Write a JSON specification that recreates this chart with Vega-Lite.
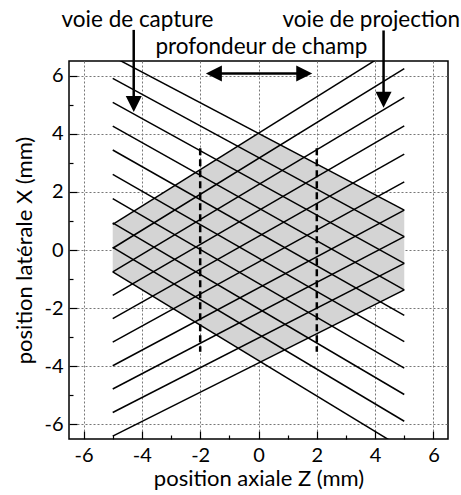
{
  "$schema": "https://vega.github.io/schema/vega-lite/v6.json",
  "width": 379,
  "height": 378,
  "autosize": {"type": "none"},
  "padding": {"left": 69, "top": 61, "right": 13, "bottom": 56},
  "config": {
    "view": {"stroke": "black", "strokeWidth": 1.5},
    "font": "Lato",
    "axis": {
      "domain": false,
      "labelFont": "Lato",
      "labelFontSize": 20,
      "labelColor": "black",
      "titleFont": "Lato",
      "titleFontSize": 22,
      "titleFontWeight": "normal",
      "titleColor": "black",
      "tickColor": "black",
      "tickWidth": 1.2,
      "gridColor": "#777777",
      "gridDash": [2, 2],
      "gridWidth": 1
    }
  },
  "datasets": {
    "rays": [
      {"id": "N0", "z": -5, "X": 6.65}, {"id": "N0", "z": 5, "X": 1.37},
      {"id": "N1", "z": -5, "X": 5.9}, {"id": "N1", "z": 5, "X": 0.46},
      {"id": "N2", "z": -5, "X": 5.08}, {"id": "N2", "z": 5, "X": -0.46},
      {"id": "N3", "z": -5, "X": 4.26}, {"id": "N3", "z": 5, "X": -1.37},
      {"id": "N4", "z": -5, "X": 3.44}, {"id": "N4", "z": 5, "X": -2.25},
      {"id": "N5", "z": -5, "X": 2.6}, {"id": "N5", "z": 5, "X": -3.15},
      {"id": "N6", "z": -5, "X": 1.77}, {"id": "N6", "z": 5, "X": -4.06},
      {"id": "N7", "z": -5, "X": 0.93}, {"id": "N7", "z": 5, "X": -4.97},
      {"id": "N8", "z": -5, "X": 0.09}, {"id": "N8", "z": 5, "X": -5.89},
      {"id": "N9", "z": -5, "X": -0.75}, {"id": "N9", "z": 5, "X": -6.85},
      {"id": "P0", "z": -5, "X": 0.88}, {"id": "P0", "z": 5, "X": 7.15},
      {"id": "P1", "z": -5, "X": 0.06}, {"id": "P1", "z": 5, "X": 6.24},
      {"id": "P2", "z": -5, "X": -0.75}, {"id": "P2", "z": 5, "X": 5.25},
      {"id": "P3", "z": -5, "X": -1.56}, {"id": "P3", "z": 5, "X": 4.27},
      {"id": "P4", "z": -5, "X": -2.36}, {"id": "P4", "z": 5, "X": 3.3},
      {"id": "P5", "z": -5, "X": -3.17}, {"id": "P5", "z": 5, "X": 2.34},
      {"id": "P6", "z": -5, "X": -3.98}, {"id": "P6", "z": 5, "X": 1.37},
      {"id": "P7", "z": -5, "X": -4.78}, {"id": "P7", "z": 5, "X": 0.46},
      {"id": "P8", "z": -5, "X": -5.59}, {"id": "P8", "z": 5, "X": -0.46},
      {"id": "P9", "z": -5, "X": -6.4}, {"id": "P9", "z": 5, "X": -1.37}
    ],
    "shade": [
      {"z": -5, "X": 0.88, "X2": -0.75},
      {"z": 0, "X": 4.01, "X2": -3.8},
      {"z": 0.076, "X": 3.97, "X2": -3.846},
      {"z": 5, "X": 1.37, "X2": -1.37}
    ],
    "dof": [
      {"z": -2, "X": 3.5, "X2": -3.5},
      {"z": 2, "X": 3.5, "X2": -3.5}
    ],
    "shafts": [
      {"z": -4.28, "z2": -4.28, "X": 7.57, "X2": 5.1},
      {"z": 4.29, "z2": 4.29, "X": 7.55, "X2": 5.25},
      {"z": -1.5, "z2": 1.52, "X": 6.07, "X2": 6.07}
    ],
    "heads": [
      {"z": -4.28, "X": 5.02, "shape": "M-1,-1L1,-1L0,1Z"},
      {"z": 4.29, "X": 5.17, "shape": "M-1,-1L1,-1L0,1Z"},
      {"z": -1.53, "X": 6.07, "shape": "M1,-1L1,1L-1,0Z"},
      {"z": 1.57, "X": 6.07, "shape": "M-1,-1L-1,1L1,0Z"}
    ],
    "labels": [
      {"z": -4.15, "X": 7.68, "text": "voie de capture"},
      {"z": 3.87, "X": 7.68, "text": "voie de projection"},
      {"z": 0.1, "X": 6.74, "text": "profondeur de champ"}
    ]
  },
  "encoding": {
    "x": {"field": "z", "type": "quantitative", "scale": {"domain": [-6.5, 6.5], "nice": false, "zero": false},
      "axis": {
        "orient": "bottom",
        "title": "position axiale Z (mm)",
        "values": [-6, -5, -4, -3, -2, -1, 0, 1, 2, 3, 4, 5, 6],
        "labelExpr": "datum.value % 2 === 0 ? '' + datum.value : ''",
        "grid": true,
        "gridOpacity": {"condition": {"test": "datum.value % 2 !== 0", "value": 0}, "value": 1},
        "tickSize": {"condition": {"test": "datum.value % 2 !== 0", "value": -4}, "value": -8},
        "labelPadding": 14,
        "titlePadding": 3
      }
    },
    "y": {"field": "X", "type": "quantitative", "scale": {"domain": [-6.5, 6.5], "nice": false, "zero": false},
      "axis": {
        "orient": "left",
        "title": "position latérale X (mm)",
        "values": [-6, -5, -4, -3, -2, -1, 0, 1, 2, 3, 4, 5, 6],
        "labelExpr": "datum.value % 2 === 0 ? '' + datum.value : ''",
        "grid": true,
        "gridOpacity": {"condition": {"test": "datum.value % 2 !== 0", "value": 0}, "value": 1},
        "tickSize": {"condition": {"test": "datum.value % 2 !== 0", "value": -4}, "value": -8},
        "labelPadding": 14,
        "titlePadding": 7
      }
    }
  },
  "layer": [
    {
      "data": {"name": "shade"},
      "mark": {"type": "area", "color": "#d4d4d4", "clip": true},
      "encoding": {"y2": {"field": "X2"}}
    },
    {
      "data": {"name": "rays"},
      "mark": {"type": "line", "color": "black", "strokeWidth": 1.5, "clip": true},
      "encoding": {"detail": {"field": "id"}}
    },
    {
      "data": {"name": "dof"},
      "mark": {"type": "rule", "color": "black", "strokeWidth": 2.5, "strokeDash": [7, 4]},
      "encoding": {"y2": {"field": "X2"}}
    },
    {
      "data": {"name": "shafts"},
      "mark": {"type": "rule", "color": "black", "strokeWidth": 2.5, "clip": false},
      "encoding": {"x2": {"field": "z2"}, "y2": {"field": "X2"}}
    },
    {
      "data": {"name": "heads"},
      "mark": {"type": "point", "filled": true, "color": "black", "opacity": 1, "size": 256, "clip": false},
      "encoding": {"shape": {"field": "shape", "type": "nominal", "scale": null}}
    },
    {
      "data": {"name": "labels"},
      "mark": {"type": "text", "font": "Lato", "fontSize": 22.5, "color": "black", "align": "center", "baseline": "alphabetic", "clip": false},
      "encoding": {"text": {"field": "text"}}
    }
  ]
}
